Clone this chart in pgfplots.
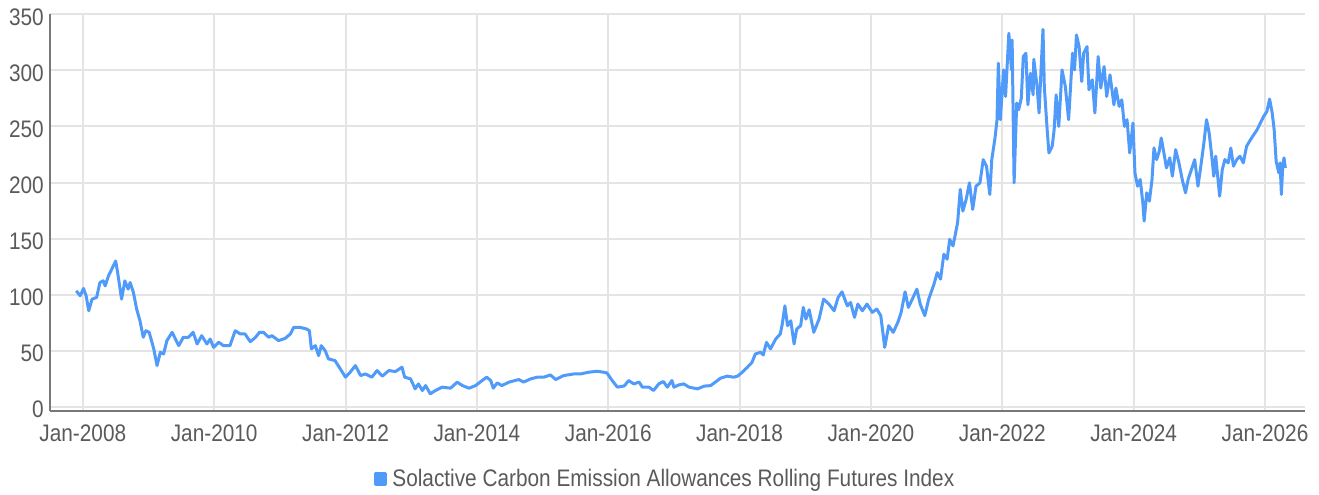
\documentclass[border=0pt]{standalone}
\usepackage{pgfplots}
\pgfplotsset{compat=1.18}
\usepackage{fontspec}
\setmainfont{Liberation Sans}[FakeStretch=0.87]
\definecolor{lineblue}{RGB}{80,155,250}
\definecolor{txtgray}{RGB}{90,90,90}
\definecolor{gridgray}{RGB}{228,228,228}
\definecolor{axgray}{RGB}{120,120,120}
\begin{document}
\begin{tikzpicture}
\path[use as bounding box] (0,0) rectangle (1319bp,495bp);
\begin{axis}[
  at={(50bp,84.3bp)}, anchor=south west,
  scale only axis, width=1255bp, height=396.4bp,
  xmin=2007.50, xmax=2026.61, ymin=-3.5, ymax=350,
  xtick={2008,2010,2012,2014,2016,2018,2020,2022,2024,2026},
  xticklabels={Jan-2008,Jan-2010,Jan-2012,Jan-2014,Jan-2016,Jan-2018,Jan-2020,Jan-2022,Jan-2024,Jan-2026},
  ytick={0,50,100,150,200,250,300,350},
  /pgf/number format/assume math mode=true,
  axis x line*=bottom, axis y line*=left,
  axis line style={draw=axgray, line width=1.8bp, -},
  major tick length=0pt,
  grid=major, major grid style={draw=gridgray, line width=2bp},
  ticklabel style={font=\fontsize{24}{24}\selectfont, text=txtgray},
  yticklabel style={anchor=east, inner sep=0pt, xshift=-6bp, yshift=-2.5bp},
  xticklabel style={anchor=north, inner sep=0pt, yshift=-14bp},
  legend style={draw=none, fill=none, inner sep=0pt, outer sep=0pt,
    at={(0.258,-0.1723)}, anchor=west,
    font=\fontsize{24}{24}\selectfont, text=txtgray,
    nodes={inner sep=0pt},
    /tikz/every odd column/.append style={column sep=5bp}},
  legend image code/.code={\fill[lineblue] (0bp,-5.2bp) rectangle (10.6bp,5.2bp);},
]
\addplot[lineblue, line width=3bp, line join=round] coordinates {
(2007.90,103.4)(2007.96,99)(2008.01,105.5)(2008.05,99)(2008.09,85.6)(2008.14,96)
(2008.21,97.5)(2008.26,110.8)(2008.31,112.3)(2008.34,107.8)(2008.39,116.7)(2008.44,122.7)
(2008.50,130)(2008.53,119.7)(2008.59,96)(2008.64,112.3)(2008.69,104.9)(2008.72,110.8)
(2008.77,102)(2008.82,87)(2008.87,76.7)(2008.92,62)(2008.96,67.8)(2009.01,66.4)
(2009.08,51.6)(2009.13,36.7)(2009.18,48.6)(2009.23,47.1)(2009.28,58.9)(2009.36,66.4)
(2009.41,60.4)(2009.46,54.5)(2009.53,62)(2009.61,62)(2009.68,66.4)(2009.74,56)
(2009.81,63.4)(2009.89,56)(2009.94,60.4)(2009.99,53)(2010.07,57.5)(2010.14,54.5)
(2010.24,54.5)(2010.32,67.8)(2010.40,64.9)(2010.47,64.9)(2010.55,58)(2010.63,62)
(2010.69,66.4)(2010.75,66.4)(2010.83,62)(2010.88,63.4)(2010.98,59)(2011.08,61)
(2011.16,64.9)(2011.21,70.8)(2011.31,70.8)(2011.41,69.3)(2011.45,67.8)(2011.48,51.6)
(2011.54,54.5)(2011.59,45.6)(2011.63,54.5)(2011.69,50)(2011.74,42.7)(2011.84,41.2)
(2011.92,33.8)(2012.00,26.4)(2012.07,30.8)(2012.15,36.7)(2012.23,27.8)(2012.30,29.3)
(2012.40,26.4)(2012.48,32.3)(2012.56,27.3)(2012.66,32.3)(2012.76,31.4)(2012.86,35.3)
(2012.90,26.4)(2012.99,24.9)(2013.06,16)(2013.11,20.4)(2013.17,14.5)(2013.22,18.9)
(2013.29,11.6)(2013.37,14.5)(2013.47,17.5)(2013.60,16.6)(2013.70,22)(2013.78,18.9)
(2013.88,16.6)(2013.98,18.9)(2014.08,23.4)(2014.15,26.4)(2014.21,23.4)(2014.25,16.6)
(2014.31,21.3)(2014.38,18.9)(2014.49,22)(2014.64,24.3)(2014.71,22)(2014.82,24.9)
(2014.92,26.4)(2015.02,26.4)(2015.12,28.4)(2015.20,24.3)(2015.32,27.8)(2015.48,29.3)
(2015.58,29.3)(2015.70,30.8)(2015.83,31.7)(2015.93,30.8)(2015.98,30.2)(2016.06,23.4)
(2016.14,17.5)(2016.24,18.5)(2016.27,20.4)(2016.31,23.4)(2016.39,20.4)(2016.47,22)
(2016.52,17.5)(2016.62,17.5)(2016.69,14.5)(2016.77,20.4)(2016.84,22.5)(2016.90,17.5)
(2016.97,23.4)(2017.00,17.5)(2017.08,19.6)(2017.15,20.4)(2017.23,17.5)(2017.36,16)
(2017.46,18.4)(2017.56,18.9)(2017.63,22)(2017.71,25.5)(2017.81,27.3)(2017.91,26.4)
(2017.97,27.3)(2018.04,30.8)(2018.12,35.3)(2018.19,39.7)(2018.24,47.1)(2018.32,48.6)
(2018.36,46.2)(2018.41,57.5)(2018.47,51.6)(2018.55,60.4)(2018.62,64.9)(2018.65,73.8)
(2018.69,90)(2018.73,72.3)(2018.78,76.7)(2018.83,56)(2018.87,69.3)(2018.93,72.3)
(2018.97,88.6)(2019.01,78.2)(2019.06,86.5)(2019.13,66.4)(2019.21,78.2)(2019.28,96)
(2019.36,91.6)(2019.44,85.6)(2019.50,97.5)(2019.56,102.5)(2019.64,90)(2019.69,93)
(2019.75,79.7)(2019.80,91.6)(2019.87,85.6)(2019.94,91.6)(2020.02,84.2)(2020.09,87.1)
(2020.15,81.2)(2020.21,53)(2020.27,72.3)(2020.34,66.4)(2020.41,75.3)(2020.46,84.2)
(2020.52,102.5)(2020.57,88.6)(2020.63,96)(2020.70,104.9)(2020.75,91.6)(2020.82,81.2)
(2020.88,96)(2020.96,109.3)(2021.01,119.7)(2021.06,113.8)(2021.11,136)(2021.16,131.6)
(2021.20,149.3)(2021.25,143.4)(2021.29,155.3)(2021.32,164.2)(2021.36,193.8)(2021.40,174.5)
(2021.45,184.9)(2021.50,199.7)(2021.55,176)(2021.60,196.7)(2021.66,199.7)(2021.71,220.4)
(2021.76,214.5)(2021.81,189.3)(2021.84,220.4)(2021.89,240)(2021.92,256)(2021.94,306.4)
(2021.97,256)(2022.02,300.4)(2022.05,276.7)(2022.10,333)(2022.14,300.4)(2022.15,327)
(2022.18,199.7)(2022.22,270.8)(2022.25,264.9)(2022.29,275.3)(2022.32,312.3)(2022.36,315.3)
(2022.39,269.3)(2022.43,297.5)(2022.47,278.2)(2022.48,309.9)(2022.53,285.6)(2022.56,262)
(2022.59,300.4)(2022.62,336.6)(2022.64,285.6)(2022.68,250)(2022.71,226.4)(2022.76,232.3)
(2022.79,247.1)(2022.82,278.2)(2022.86,250)(2022.91,300.4)(2022.96,285.6)(2023.01,256)
(2023.07,315.3)(2023.10,300.4)(2023.13,331.6)(2023.17,321.2)(2023.21,290.1)(2023.24,315.3)
(2023.29,321.2)(2023.32,282.7)(2023.37,291.6)(2023.41,262)(2023.46,312.3)(2023.50,284.2)
(2023.55,303.4)(2023.59,276.7)(2023.64,296)(2023.70,269.3)(2023.73,284.2)(2023.78,267.8)
(2023.82,273.8)(2023.86,250)(2023.90,256)(2023.94,226.4)(2023.99,253)(2024.02,208.6)
(2024.06,196.7)(2024.10,202.7)(2024.14,182)(2024.16,165.6)(2024.20,190.8)(2024.24,183.4)
(2024.28,202.7)(2024.31,230.8)(2024.35,220.4)(2024.39,227.8)(2024.42,239.7)(2024.47,223.4)
(2024.50,213)(2024.55,222)(2024.59,205.6)(2024.64,229.3)(2024.69,217.5)(2024.74,202.7)
(2024.79,190.8)(2024.83,202.7)(2024.88,211.6)(2024.93,220.4)(2024.98,196.7)(2025.03,217.5)
(2025.07,235.3)(2025.11,256)(2025.15,244.2)(2025.19,223.4)(2025.22,205.6)(2025.25,223.4)
(2025.31,187.8)(2025.35,211.6)(2025.39,220.4)(2025.44,217.5)(2025.48,230.8)(2025.52,214.5)
(2025.57,220.4)(2025.62,223.4)(2025.67,217.5)(2025.72,232.3)(2025.78,238.2)(2025.83,242.7)
(2025.88,247.1)(2025.93,253)(2025.98,258.9)(2026.03,263.4)(2026.07,274.4)(2026.11,262)
(2026.14,247.1)(2026.17,219)(2026.21,208.6)(2026.23,217.5)(2026.25,189.3)(2026.27,214.5)
(2026.29,222)(2026.31,213)
};
\addlegendentry{Solactive Carbon Emission Allowances Rolling Futures Index}
\end{axis}
\end{tikzpicture}
\end{document}
